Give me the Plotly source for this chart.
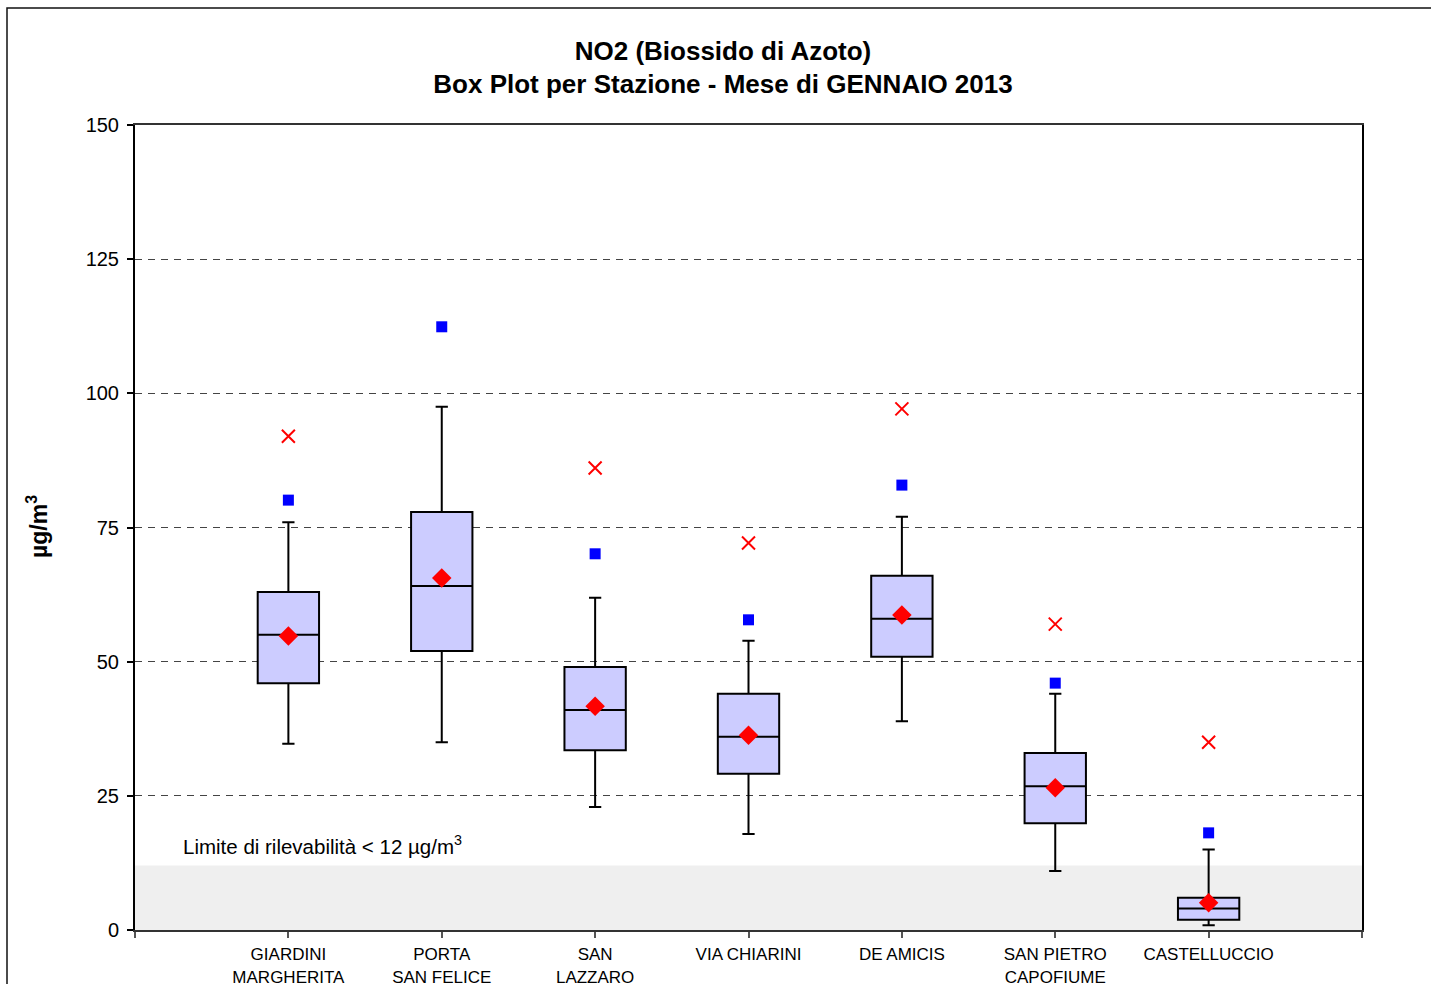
import plotly.graph_objects as go

# ---- data ----
stations = ["GIARDINI<br>MARGHERITA", "PORTA<br>SAN FELICE", "SAN<br>LAZZARO", "VIA CHIARINI",
            "DE AMICIS", "SAN PIETRO<br>CAPOFIUME", "CASTELLUCCIO"]
whisk_low = [34.7, 35.0, 22.9, 17.9, 38.9, 11.0, 0.9]
q1 = [46.0, 52.0, 33.5, 29.1, 50.9, 19.9, 1.9]
median = [55.0, 64.1, 41.0, 36.0, 58.0, 26.8, 4.0]
q3 = [63.0, 77.9, 49.0, 44.0, 66.0, 33.0, 6.0]
whisk_high = [76.0, 97.5, 61.9, 53.9, 77.0, 44.0, 15.0]
mean = [54.8, 65.6, 41.7, 36.3, 58.7, 26.5, 5.1]
blue_sq = [80.1, 112.4, 70.1, 57.8, 82.9, 46.0, 18.1]
red_x = [92.0, None, 86.1, 72.1, 97.1, 57.0, 35.0]
y_ticks = [0, 25, 50, 75, 100, 125, 150]
detect_limit = 12

pos = [i + 1 for i in range(len(stations))]

fig = go.Figure()

fig.add_trace(go.Box(
    x=pos, q1=q1, median=median, q3=q3,
    lowerfence=whisk_low, upperfence=whisk_high,
    width=0.4, whiskerwidth=0.2, boxpoints=False,
    fillcolor="#ccccff", line=dict(color="black", width=2),
    showlegend=False, hoverinfo="skip"))

fig.add_trace(go.Scatter(
    x=pos, y=blue_sq, mode="markers",
    marker=dict(symbol="square", size=11, color="#0000ff"),
    showlegend=False, hoverinfo="skip"))

fig.add_trace(go.Scatter(
    x=pos, y=red_x, mode="markers",
    marker=dict(symbol="x-thin-open", size=13, color="#ff0000",
                line=dict(color="#ff0000", width=2)),
    showlegend=False, hoverinfo="skip"))

fig.add_trace(go.Scatter(
    x=pos, y=mean, mode="markers",
    marker=dict(symbol="diamond", size=15, color="#ff0000"),
    showlegend=False, hoverinfo="skip"))

# grey band below detection limit
fig.add_shape(type="rect", xref="x domain", yref="y", x0=0, x1=1, y0=0, y1=detect_limit,
              fillcolor="#efefef", line=dict(width=0), layer="below")

# outer chart frame
fig.add_shape(type="rect", xref="paper", yref="paper",
              x0=(7 - 135) / 1227, x1=1.5, y0=-1, y1=1 + (125 - 8) / 805,
              line=dict(color="#111111", width=1.5), fillcolor="rgba(0,0,0,0)", layer="above")

fig.add_annotation(x=(181 - 135) / 1227, xref="paper", y=15.9, yref="y",
                   text="Limite di rilevabilità < 12 µg/m<sup>3</sup>", showarrow=False,
                   xanchor="left", yanchor="middle",
                   font=dict(size=20.5, color="black", family="Liberation Sans"))

fig.add_annotation(x=(37 - 135) / 1227, xref="paper", y=(930 - 527) / 805, yref="paper",
                   text="<b>µg/m<sup>3</sup></b>", showarrow=False, textangle=-90,
                   xanchor="center", yanchor="middle",
                   font=dict(size=23, color="black", family="Liberation Sans"))

fig.update_layout(
    width=1431, height=984,
    margin=dict(l=135, r=69, t=125, b=54, autoexpand=False),
    paper_bgcolor="white", plot_bgcolor="white",
    font=dict(family="Liberation Sans", color="black"),
    title=dict(text="<b>NO2 (Biossido di Azoto)<br>Box Plot per Stazione - Mese di GENNAIO 2013</b>",
               x=723 / 1431, xanchor="center", xref="container",
               y=1 - 59.5 / 984, yanchor="middle", yref="container",
               font=dict(size=26, color="black", family="Liberation Sans")),
    showlegend=False,
)

fig.update_xaxes(
    range=[0, len(stations) + 1], tickmode="array",
    tickvals=list(range(len(stations) + 2)),
    ticktext=[""] + stations + [""],
    ticks="outside", ticklen=6, tickcolor="#555555", tickwidth=1.5,
    ticklabelstandoff=2, automargin=False,
    showline=True, linecolor="#333333", linewidth=2, mirror=True,
    showgrid=False, zeroline=False,
    tickfont=dict(size=17, color="black"))

fig.update_yaxes(
    range=[0, 150], tickmode="array", tickvals=y_ticks,
    ticks="outside", ticklen=6, tickcolor="black", tickwidth=1.5,
    ticklabelstandoff=4, automargin=False,
    showline=True, linecolor="black", linewidth=2, mirror=True,
    showgrid=True, gridcolor="#444444", gridwidth=1, griddash="7px,6px",
    zeroline=False,
    tickfont=dict(size=20, color="black"))

fig.write_html("out.html", config={"displayModeBar": False},
               post_script="document.body.style.margin='0';")
